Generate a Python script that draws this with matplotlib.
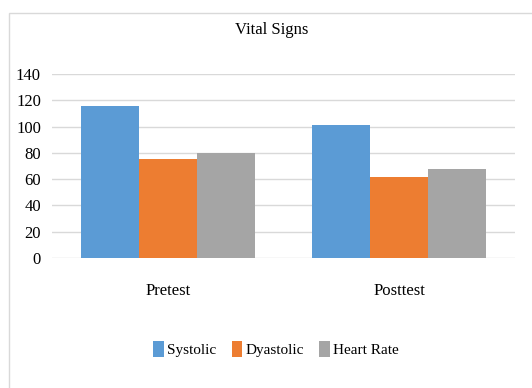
import numpy as np
import matplotlib
matplotlib.use("Agg")
import matplotlib.pyplot as plt
from matplotlib.patches import Rectangle

categories = ["Pretest", "Posttest"]
series = ["Systolic", "Dyastolic", "Heart Rate"]
systolic = [116, 101]
dyastolic = [75, 62]
heart_rate = [80, 68]
colors = ["#5B9BD5", "#ED7D31", "#A5A5A5"]

plt.rcParams["font.family"] = ["Liberation Serif", "DejaVu Serif"]

fig = plt.figure(figsize=(5.32, 3.88), dpi=100)
fig.patches.append(Rectangle((9 / 532, -0.1), 1.2, 1 - 13 / 388 + 0.1,
                             transform=fig.transFigure, fill=False,
                             edgecolor="#d9d9d9", linewidth=1))
ax = fig.add_axes([52 / 532, 1 - 258 / 388, 463 / 532, 184 / 388])

x = np.arange(len(categories))
w = 0.25
for i, (vals, name) in enumerate(zip([systolic, dyastolic, heart_rate], series)):
    ax.bar(x + (i - 1) * w, vals, w, color=colors[i], label=name, zorder=3)

ax.set_xlim(-0.5, 1.5)
ax.set_ylim(0, 140)
ax.set_yticks(range(0, 141, 20))
ax.grid(axis="y", color="#d9d9d9", linewidth=1, zorder=0)
for s in ax.spines.values():
    s.set_visible(False)
ax.set_xticks(x)
ax.set_xticklabels(categories)
ax.tick_params(axis="x", length=0, pad=18, labelsize=12)
ax.tick_params(axis="y", length=0, pad=8, labelsize=12)

fig.text(272 / 532, 1 - 30 / 388, "Vital Signs", ha="center", va="center", fontsize=12)
fig.legend(loc="center", bbox_to_anchor=(276 / 532, 1 - 349 / 388), ncol=3,
           frameon=False, fontsize=11, handlelength=0.7, handleheight=1.2,
           handletextpad=0.2, columnspacing=1.0)

fig.savefig("out.png", dpi=100)
